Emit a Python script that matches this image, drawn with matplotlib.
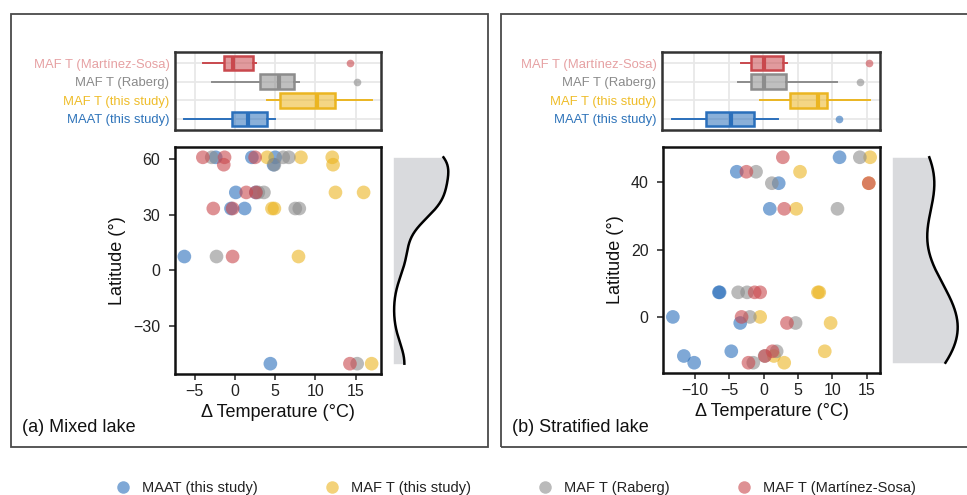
import matplotlib
matplotlib.use("Agg")
import matplotlib.pyplot as plt
import numpy as np
from matplotlib.colors import to_rgba
from matplotlib.lines import Line2D
from matplotlib.patches import Rectangle

plt.rcParams["font.family"] = ["Liberation Sans", "DejaVu Sans"]

W, H = 967, 495

series = ["MAAT (this study)", "MAF T (this study)", "MAF T (Raberg)", "MAF T (Martínez-Sosa)"]
colors = ["#2a6fbb", "#ebb521", "#8c8c8c", "#c9484d"]
label_colors = ["#2f74ba", "#efbd2a", "#8a8a8a", "#e6a1a3"]

# mixed lakes: one entry per site, delta T (deg C) for each reconstruction
mixed_lat = [61.1, 61.1, 61.1, 57.1, 42.1, 42.1, 33.4, 33.4, 7.4, -50.6]
mixed_maat = [-2.4, 2.1, 5.0, 4.8, 0.1, 2.6, -0.5, 1.2, -6.3, 4.4]
mixed_maf = [4.0, 8.2, 12.1, 12.2, 12.5, 16.0, 4.6, 4.9, 7.9, 17.0]
mixed_raberg = [-2.9, 6.0, 6.7, 4.9, 2.9, 3.6, 7.5, 8.0, -2.3, 15.2]
mixed_ms = [-4.0, -1.3, 2.5, -1.4, 1.4, 2.6, -2.7, -0.3, -0.3, 14.3]

# stratified lakes
strat_lat = [47.4, 43.1, 39.7, 32.1, 7.3, 7.3, 0.0, -1.8, -10.2, -11.6, -13.6]
strat_maat = [11.05, -3.9, 2.2, 0.9, -6.4, -6.5, -13.2, -3.4, -4.7, -11.6, -10.1]
strat_maf = [15.5, 5.3, 15.3, 4.75, 7.9, 8.1, -0.5, 9.75, 8.9, 1.5, 3.0]
strat_raberg = [14.0, -1.1, 1.2, 10.75, -3.7, -2.4, -2.0, 4.65, 1.9, 0.15, -1.5]
strat_ms = [2.8, -2.5, 15.3, 3.0, -1.3, -0.5, -3.2, 3.4, 1.3, 0.2, -2.2]


def px_axes(fig, x0, y0, x1, y1):
    return fig.add_axes([x0 / W, 1 - y1 / H, (x1 - x0) / W, (y1 - y0) / H])


def kde(lat, n=512):
    # gaussian density with R's bw.nrd0, evaluated over the data range
    lat = np.asarray(lat, dtype=float)
    q25, q75 = np.percentile(lat, [25, 75])
    bw = 0.9 * min(lat.std(ddof=1), (q75 - q25) / 1.34) * len(lat) ** -0.2
    grid = np.linspace(lat.min(), lat.max(), n)
    z = (grid[:, None] - lat[None, :]) / bw
    dens = np.exp(-0.5 * z ** 2).sum(axis=1) / (len(lat) * bw * np.sqrt(2 * np.pi))
    return grid, dens


def minus(t):
    return f"{t:g}".replace("-", "\u2212")


def draw_panel(fig, lat, values, xticks, yticks, box_pos, sc_pos, dens_pos):
    axb = px_axes(fig, *box_pos)
    axs = px_axes(fig, *sc_pos)
    axd = px_axes(fig, *dens_pos)

    # scatter of delta T against latitude
    for vals, c in zip(values, colors):
        axs.scatter(vals, lat, s=97, color=c, alpha=0.6, edgecolors="none")
    axs.set_xticks(xticks)
    axs.set_yticks(yticks)
    axs.set_xticklabels([minus(t) for t in xticks])
    axs.set_yticklabels([minus(t) for t in yticks])
    axs.tick_params(direction="out", length=4.5, width=1.1, labelsize=11.5, colors="#222")
    axs.tick_params(axis="y", pad=6)
    axs.tick_params(axis="x", pad=3)
    axs.set_xlabel("\u0394 Temperature (\u00b0C)", fontsize=13, color="#111", labelpad=3)
    axs.set_ylabel("Latitude (\u00b0)", fontsize=13, color="#111", labelpad=5)
    for sp in axs.spines.values():
        sp.set_linewidth(1.8)
        sp.set_color("#111")

    # boxplots of the same values, top row first
    bp = axb.boxplot(values, positions=range(len(values)), orientation="horizontal",
                     widths=0.78, patch_artist=True, whis=1.5)
    for i, c in enumerate(colors):
        bp["boxes"][i].set(facecolor=to_rgba(c, 0.55), edgecolor=c, linewidth=1.8)
        bp["medians"][i].set(color=c, linewidth=3.0)
        for w in bp["whiskers"][2 * i:2 * i + 2]:
            w.set(color=c, linewidth=1.4)
        for cap in bp["caps"][2 * i:2 * i + 2]:
            cap.set_visible(False)
        bp["fliers"][i].set(marker="o", markerfacecolor=c, markeredgecolor="none",
                            markersize=5.5, alpha=0.6)
    axb.set_xlim(axs.get_xlim())
    axb.set_ylim(-0.6, len(values) - 0.4)
    axb.set_xticks(xticks)
    axb.set_xticklabels([])
    axb.set_yticks(range(len(values)))
    axb.set_yticklabels(series, fontsize=9.4)
    for t, c in zip(axb.get_yticklabels(), label_colors):
        t.set_color(c)
    axb.tick_params(length=0, pad=4)
    axb.grid(True, color="#e8e8e8", linewidth=1.3)
    axb.set_axisbelow(True)
    for sp in axb.spines.values():
        sp.set_linewidth(1.8)
        sp.set_color("#333")

    # latitude density on the right margin
    grid, dens = kde(lat)
    axd.fill_betweenx(grid, 0, dens, color="#d9dadd", linewidth=0)
    axd.plot(dens, grid, color="black", linewidth=1.8, clip_on=False)
    axd.set_xlim(0, dens.max())
    axd.set_ylim(axs.get_ylim())
    axd.axis("off")


fig = plt.figure(figsize=(W / 100, H / 100), dpi=100)

draw_panel(fig, mixed_lat, [mixed_maat, mixed_maf, mixed_raberg, mixed_ms],
           [-5, 0, 5, 10, 15], [-30, 0, 30, 60],
           (175, 52, 381, 130), (175, 147, 381, 374), (393.3, 147, 448.3, 374))
draw_panel(fig, strat_lat, [strat_maat, strat_maf, strat_raberg, strat_ms],
           [-10, -5, 0, 5, 10, 15], [0, 20, 40],
           (662, 52, 880, 130), (663, 147, 880, 373), (892.3, 147, 957.7, 373))

# panel frames and labels
for x0, x1 in [(11, 488), (501, 980)]:
    fig.add_artist(Rectangle((x0 / W, 1 - 447 / H), (x1 - x0) / W, (447 - 14) / H,
                             transform=fig.transFigure, fill=False,
                             edgecolor="#4a4a4a", linewidth=1.3))
fig.text(22 / W, 1 - 428 / H, "(a) Mixed lake", fontsize=13, va="center", color="#111")
fig.text(512 / W, 1 - 428 / H, "(b) Stratified lake", fontsize=13, va="center", color="#111")

handles = [Line2D([], [], marker="o", linestyle="", color=c, alpha=0.6,
                  markersize=9, markeredgewidth=0) for c in colors]
fig.legend(handles, series, loc="center", bbox_to_anchor=(516 / W, 1 - 488 / H),
           ncol=4, frameon=False, fontsize=10.5, columnspacing=4.6,
           handletextpad=0.8, handlelength=1.0, labelcolor="#222")

fig.savefig("out.png", dpi=100)
